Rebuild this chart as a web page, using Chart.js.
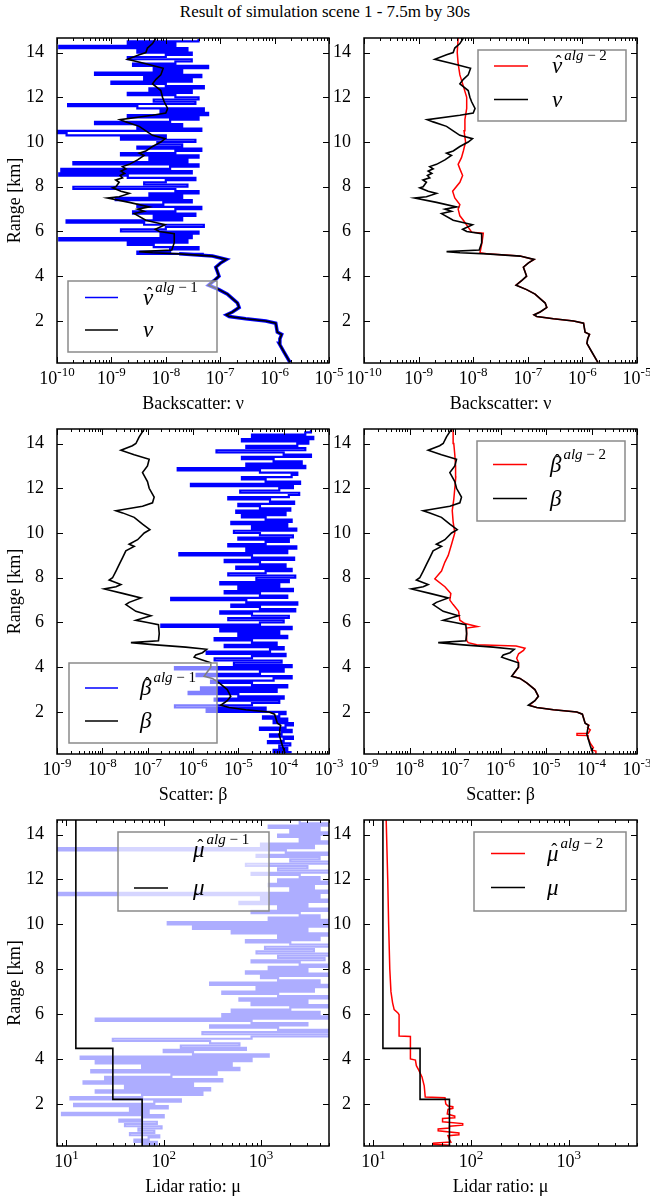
<!DOCTYPE html>
<html>
<head>
<meta charset="utf-8">
<script src="https://cdn.jsdelivr.net/npm/chart.js@4.4.1/dist/chart.umd.min.js"></script>
<style>
  html, body { margin: 0; background: #fff; }
  #page { position: relative; width: 650px; height: 1201px; overflow: hidden; }
  #page canvas { position: absolute; left: 0; top: 0; }
  #title { position: absolute; left: 0; top: 2px; width: 650px; text-align: center;
           font: 17px "Liberation Serif", serif; color: #000; }
</style>
</head>
<body>
<div id="page">
  <div id="title">Result of simulation scene 1 - 7.5m by 30s</div>
  <canvas id="nu1" width="650" height="1201"></canvas>
  <canvas id="nu2" width="650" height="1201"></canvas>
  <canvas id="beta1" width="650" height="1201"></canvas>
  <canvas id="beta2" width="650" height="1201"></canvas>
  <canvas id="mu1" width="650" height="1201"></canvas>
  <canvas id="mu2" width="650" height="1201"></canvas>
</div>
<script>
// tick labels
const rangeTicks = [2, 4, 6, 8, 10, 12, 14];
const nuTicks = [1e-10, 1e-9, 1e-8, 1e-7, 1e-6, 1e-5];
const betaTicks = [1e-9, 1e-8, 1e-7, 1e-6, 1e-5, 1e-4, 1e-3];
const muTicks = [10, 100, 1000];

// range bins (km) used by the noisy alg-1 profiles
const gridKm = [0.2,0.3,0.4,0.5,0.6,0.7,0.8,0.9,1.0,1.1,1.2,1.3,1.4,1.5,1.6,1.7,1.8,1.9,2.0,2.1,
  2.2,2.3,2.4,2.5,2.6,2.7,2.8,2.9,3.0,3.1,3.2,3.3,3.4,3.5,3.6,3.7,3.8,3.9,4.0,4.1,
  4.2,4.3,4.4,4.5,4.6,4.7,4.8,4.9,5.0,5.1,5.2,5.3,5.4,5.5,5.6,5.7,5.8,5.9,6.0,6.1,
  6.2,6.3,6.4,6.5,6.6,6.7,6.8,6.9,7.0,7.1,7.2,7.3,7.4,7.5,7.6,7.7,7.8,7.9,8.0,8.1,
  8.2,8.3,8.4,8.5,8.6,8.7,8.8,8.9,9.0,9.1,9.2,9.3,9.4,9.5,9.6,9.7,9.8,9.9,10.0,10.1,
  10.2,10.3,10.4,10.5,10.6,10.7,10.8,10.9,11.0,11.1,11.2,11.3,11.4,11.5,11.6,11.7,11.8,11.9,12.0,12.1,
  12.2,12.3,12.4,12.5,12.6,12.7,12.8,12.9,13.0,13.1,13.2,13.3,13.4,13.5,13.6,13.7,13.8,13.9,14.0,14.1,
  14.2,14.3,14.4,14.5,14.6];

// true backscatter nu
const nuTrueKm = [0.15,0.6,1.0,1.2,1.4,1.5,1.9,2.0,2.1,2.2, 2.27,2.4,2.6,2.8,3.0,3.2,3.4,3.6,3.8,4.0,
  4.2,4.4,4.6,4.75,4.9,5.0,5.05,5.1,5.17,5.5, 5.9,6.0,6.1,6.3,6.5,6.8,6.9,7.0,7.1,7.3,
  7.5,7.55,7.7,7.8,7.95,8.0,8.2,8.3,8.4,8.5, 8.6,8.7,8.8,8.9,9.0,9.2,9.4,9.5,9.6,9.8,
  10.0,10.15,10.3,10.5,10.7,10.9,11.0,11.2,11.3,11.5, 11.8,12.0,12.3,12.6,12.8,13.0,13.3,13.5,13.7,13.9,
  14.0,14.2,14.4,14.65];
const nuTrue = [1.92e-6,1.5e-6,1.21e-6,1.25e-6,1.35e-6,1.12e-6,1.05e-6,6.9e-7,2.95e-7,1.46e-7,
  1.3e-7,1.68e-7,2.23e-7,2.08e-7,1.68e-7,1.36e-7,9.5e-8,6.1e-8,7.7e-8,9.5e-8,
  8.9e-8,8.3e-8,1.03e-7,1.3e-7,7.2e-8,1.76e-8,5.7e-9,3.25e-9,1.29e-8,1.43e-8,
  1.43e-8,7.6e-9,6.4e-9,9.7e-9,4.3e-9,2.63e-9,4.0e-9,3.03e-9,4.95e-9,2.13e-9,
  8.5e-10,1.39e-9,2.13e-9,1.5e-9,1.05e-9,1.21e-9,1.39e-9,1.2e-9,1.6e-9,1.45e-9,
  1.75e-9,1.5e-9,1.85e-9,1.6e-9,2.13e-9,3.03e-9,4.0e-9,3.25e-9,4.3e-9,5.7e-9,
  8.1e-9,9.7e-9,5.7e-9,4.3e-9,3.25e-9,1.85e-9,1.44e-9,5.7e-9,1.0e-8,1.08e-8,
  9.35e-9,8.7e-9,8.1e-9,5.7e-9,6.6e-9,8.1e-9,8.95e-9,4.3e-9,1.98e-9,3.25e-9,
  4.3e-9,4.6e-9,5.7e-9,6.6e-9];

// nu alg-1 above 5 km (gridKm from 5.0)
const nuAlg1 = [5e-8,3e-9,1.2e-8,4e-8,6e-9,2e-9,2.5e-8,1.1e-10,3e-8,8e-9,
  4e-8,1.5e-9,1e-8,5e-8,4e-9,1.5e-10,2e-8,6e-9,3.5e-8,2.5e-9,
  1.5e-8,4.5e-8,3e-9,9e-9,3e-8,1.2e-9,2e-8,5e-9,4e-8,1.5e-8,
  2e-10,2.5e-8,4e-9,1e-8,3.5e-8,2e-9,1.1e-10,3e-8,1.2e-10,1.2e-8,
  4e-8,2e-10,2.5e-8,5e-9,4e-8,1.5e-9,1.5e-8,4.5e-8,3e-9,2e-8,
  7e-9,3.5e-8,1.5e-9,1e-8,1.5e-10,1.05e-10,4.5e-8,3e-9,2e-8,5e-10,
  1.2e-8,4e-8,2e-9,6e-8,8e-9,5e-8,3e-9,1.6e-10,3.5e-8,6e-9,
  4e-8,1.5e-8,2e-9,3e-8,5e-9,5e-8,1e-8,1e-9,3e-8,4e-9,
  4.5e-8,5e-10,2e-8,6e-9,6e-8,2.5e-9,1.5e-8,3e-8,2e-9,1e-8,
  3e-8,3e-9,2.5e-8,1.1e-10,1.5e-8,2e-9,4e-8];

// nu alg-2 above 5 km (below it follows the true profile)
const nuAlg2UpperKm = [5.05,5.5,5.92,5.97,6.5,6.7,7.0,7.2,7.5,7.8,8.2,8.5,8.8,9.0,9.3,9.6,10.0,10.5,11.0,11.5,12.0,12.5,13.0,13.5,14.0,14.65];
const nuAlg2Upper = [1.33e-8,1.45e-8,1.53e-8,9.35e-9,6.6e-9,5.7e-9,5.3e-9,5.7e-9,4.6e-9,4.2e-9,5.7e-9,6.4e-9,5.7e-9,5.3e-9,6.1e-9,6.6e-9,7.25e-9,6.8e-9,7.05e-9,7.6e-9,7.6e-9,6.6e-9,5.7e-9,5.3e-9,5.1e-9,5.3e-9];

// true scatter beta
const betaTrueKm = [0.15,0.5,1.0,1.2,1.4,1.5,1.9,2.0,2.1,2.2, 2.3,2.5,2.7,3.0,3.3,3.5,3.6,3.8,4.0,4.2,
  4.35,4.45,4.55,4.65,4.8,4.9,5.0,5.1,5.18,5.5, 5.9,6.0,6.1,6.3,6.5,6.8,6.9,7.1,7.3,7.5,
  7.6,7.7,7.9,8.0,8.3,8.6,8.9,9.2,9.4,9.5, 9.7,10.0,10.15,10.4,10.7,10.9,11.0,11.2,11.35,11.6,
  12.0,12.3,12.7,13.0,13.3,13.5,13.7,13.9,14.0,14.3, 14.65];
const betaTrue = [1.07e-4,9.35e-5,7.9e-5,8.2e-5,8.6e-5,7.25e-5,6.3e-5,4.75e-5,1.46e-5,6.25e-6,
  4.1e-6,5.7e-6,6.8e-6,5.7e-6,3.77e-6,2.68e-6,1.76e-6,2.08e-6,2.47e-6,2.47e-6,
  1.49e-6,1.06e-6,1.15e-6,1.62e-6,2.0e-6,6.9e-7,1.52e-7,4.27e-8,1.73e-7,1.8e-7,
  1.73e-7,9.9e-8,5.5e-8,1.18e-7,5.5e-8,3.3e-8,3.9e-8,7.1e-8,2.8e-8,1.1e-8,
  2.0e-8,2.57e-8,1.42e-8,1.68e-8,2.0e-8,2.36e-8,2.8e-8,3.3e-8,5.05e-8,3.9e-8,
  6.0e-8,8.4e-8,1.12e-7,7.7e-8,5.05e-8,2.8e-8,2.0e-8,7.7e-8,1.28e-7,1.39e-7,
  1.08e-7,9.9e-8,7.7e-8,9.9e-8,1.08e-7,5.05e-8,2.57e-8,4.6e-8,5.5e-8,6.5e-8,
  8.4e-8];

// beta alg-1 on gridKm
const betaAlg1 = [1.5e-4,6e-5,1.2e-4,8e-5,1.4e-4,4.5e-5,1e-4,1.6e-4,5e-5,9e-5,
  1.5e-4,3e-5,1.1e-4,1.6e-4,6e-5,1.2e-4,3.5e-5,8e-5,1.1e-4,2e-6,
  4e-5,4e-7,2e-5,8e-5,3e-6,1e-4,1e-5,8e-7,7e-5,1.5e-6,
  1.2e-4,2e-5,2.5e-6,6e-5,1.5e-4,1.2e-6,3e-5,1e-4,4e-7,1.5e-4,
  8e-6,9e-5,3e-6,2e-5,1.1e-4,2e-6,5e-5,1e-4,5e-6,7e-5,
  2e-5,3e-6,1.2e-4,1e-5,8e-5,4e-6,1.5e-4,2e-7,3e-5,1e-4,
  6e-6,1.3e-4,2e-5,4e-6,1.8e-4,3e-5,7e-6,2e-4,1.5e-5,3.3e-7,
  1.2e-4,3e-5,5e-6,1.6e-4,1e-5,8e-5,4e-6,1.3e-4,2.5e-5,1.8e-4,
  6e-6,4e-5,1.5e-4,9e-6,1.1e-4,3e-5,5e-6,1.7e-4,2e-5,5e-7,
  1.2e-4,1.5e-5,1.9e-4,6e-6,4e-5,1.3e-4,1e-5,1.6e-4,3e-5,8e-6,
  1.9e-4,2e-5,1.2e-4,7e-6,1.5e-4,4e-5,1.2e-5,1.1e-4,9e-6,1.4e-4,
  3e-5,1e-5,1.7e-4,5e-5,6e-6,1.3e-4,2.2e-4,1.1e-5,8e-5,1.6e-4,
  9e-7,2.3e-4,4e-5,1.2e-5,1.5e-4,2e-4,3e-5,4.6e-7,3e-4,1.5e-5,
  2.5e-4,6e-5,1.2e-5,4e-4,1e-4,3.3e-6,3e-4,1.5e-5,2e-4,3.5e-4,
  1.2e-5,4.5e-4,2e-5,3e-4,4e-4];

// beta alg-2
const betaAlg2Km = [0.15,0.25,0.3,0.4,0.6,0.8,0.95,0.96,1.04,1.05, 1.2,1.3,1.4,1.5,1.9,2.0,2.1,2.2,2.3,2.5,
  2.7,3.0,3.3,3.5,3.6,3.8,4.0,4.2,4.4,4.6, 4.75,4.85,4.95,5.0,5.1,5.2,5.75,5.82,5.95,6.1,
  6.5,6.8,7.0,7.3,7.6,7.95,8.3,8.7,9.0,9.5, 10.0,10.5,11.0,11.5,12.0,12.5,13.0,13.5,14.0,14.65];
const betaAlg2 = [1.2e-4,1.25e-4,1.0e-4,1.1e-4,9.4e-5,8.6e-5,8.4e-5,4.8e-5,4.8e-5,8.5e-5,
  9.4e-5,8.2e-5,8.8e-5,7.25e-5,6.3e-5,4.75e-5,1.46e-5,6.25e-6,4.3e-6,5.7e-6,
  6.8e-6,5.7e-6,3.77e-6,2.68e-6,1.8e-6,2.1e-6,2.5e-6,2.5e-6,2.27e-6,2.5e-6,
  3.2e-6,3.46e-6,2.2e-6,3e-7,1.95e-7,1.8e-7,1.8e-7,3.1e-7,1.65e-7,1.28e-7,
  1.2e-7,9.1e-8,7.7e-8,8.1e-8,6.0e-8,3.6e-8,5.05e-8,6.0e-8,7.1e-8,8.4e-8,
  9.9e-8,9.1e-8,8.7e-8,9.4e-8,9.9e-8,1.04e-7,1.03e-7,9.9e-8,9.4e-8,9.1e-8];

// true lidar ratio mu
const muTrueKm = [0.12, 2.2, 2.2, 4.47, 4.47, 14.65];
const muTrue = [60, 60, 30, 30, 12.5, 12.5];

// mu alg-1 on gridKm
const muAlg1 = [60,85,50,70,90,45,80,55,95,40,
  85,35,60,100,9,70,45,110,12,80,
  150,11,60,250,20,300,40,200,15,400,
  25,120,350,18,600,60,500,20,800,14,
  1200,200,100,700,150,600,300,30,800,5000,
  250,6000,1500,300,3000,800,20,7000,400,4000,
  500,2000,8000,800,3000,600,6000,1500,400,3500,
  900,7000,300,4000,1500,1000,6000,700,3000,1200,
  8000,2500,800,4500,1500,6000,900,3500,1100,7000,
  2000,700,4000,1500,6000,500,3000,200,8000,110,
  7000,1200,4000,2500,800,6000,1500,3000,600,7000,
  1000,4000,5,6000,2000,3500,1200,8000,1500,4000,
  2500,800,7000,1500,3000,700,6000,2000,4000,900,
  8000,1800,5,3500,1000,6000,2500,4000,1500,7000,
  2000,4000,1200,8000,2500];

// mu alg-2
const muAlg2Km = [0.15,0.2,0.25,0.3,0.4,0.58,0.62,0.7,0.8,0.88, 0.92,1.0,1.05,1.12,1.2,1.35,1.38,1.45,1.55,1.75,
  1.8,1.87,1.9,2.0,2.27,2.3,2.8,3.2,3.5,3.7, 3.95,4.0,5.0,5.02,5.97,6.05,6.2,6.5,7.0,8.0,
  10.0,12.0,14.65];
const muAlg2 = [60,41,41,62,60,58,75,75,46,46, 60,60,82,82,51,51,68,68,57,58,
  65,65,58,55,54,33.9,33.1,31.4,29.1,27.5, 26.9,23.9,23.9,18.3,18.3,17.8,16.3,15.7,15.1,14.7,
  14.3,14.0,13.5];

const SERIF = '"Liberation Serif", "Times New Roman", serif';
const tickFont = { family: SERIF, size: 18 };
const titleFont = { family: SERIF, size: 18 };
const pts = (km, vals) => km.map((k, i) => ({ x: vals[i], y: k }));

// frame, inward ticks, power-of-ten labels and boxed legend, drawn over the lines
const framePlugin = {
  id: 'frame',
  afterDatasetsDraw(chart, args, opts) {
    const { ctx, chartArea: a, scales: { x, y } } = chart;
    ctx.save();
    const L = opts.legend;
    if (L) {
      const [x1, y1, x2, y2] = L.box;
      ctx.fillStyle = 'rgba(255,255,255,0.5)';
      ctx.fillRect(x1, y1, x2 - x1, y2 - y1);
      ctx.strokeStyle = '#8a8a8a';
      ctx.lineWidth = 1.5;
      ctx.strokeRect(x1, y1, x2 - x1, y2 - y1);
      L.items.forEach(it => {
        if (it.color) {
          ctx.strokeStyle = it.color;
          ctx.lineWidth = 1.5;
          ctx.beginPath();
          ctx.moveTo(L.lineX[0], it.y);
          ctx.lineTo(L.lineX[1], it.y);
          ctx.stroke();
        }
        ctx.fillStyle = '#000';
        ctx.textBaseline = 'alphabetic';
        ctx.textAlign = 'left';
        ctx.font = 'italic 23px ' + SERIF;
        ctx.fillText(it.base, L.textX, it.y + 7);
        const w = ctx.measureText(it.base).width;
        if (it.sup) {
          ctx.font = '18px ' + SERIF;
          ctx.textAlign = 'center';
          ctx.fillText('\u02C6', L.textX + w / 2 + 1.5, it.y + 2);
          ctx.textAlign = 'left';
          let sx = L.textX + w + 2;
          ctx.font = 'italic 15px ' + SERIF;
          ctx.fillText('alg', sx, it.y - 6);
          sx += ctx.measureText('alg').width;
          ctx.font = '15px ' + SERIF;
          ctx.fillText(' \u2212 ' + it.sup, sx, it.y - 6);
        }
      });
    }
    // x tick labels: "10" with a raised exponent
    ctx.fillStyle = '#000';
    ctx.textBaseline = 'alphabetic';
    ctx.textAlign = 'left';
    x.ticks.forEach(t => {
      const exp = String(Math.round(Math.log10(t.value)));
      ctx.font = '18px ' + SERIF;
      const wb = ctx.measureText('10').width;
      ctx.font = '13px ' + SERIF;
      const we = ctx.measureText(exp).width;
      const px = x.getPixelForValue(t.value) - (wb + we) / 2;
      ctx.font = '18px ' + SERIF;
      ctx.fillText('10', px, a.bottom + 21);
      ctx.font = '13px ' + SERIF;
      ctx.fillText(exp, px + wb, a.bottom + 13);
    });
    ctx.strokeStyle = '#000';
    ctx.lineWidth = 1;
    ctx.beginPath();
    const lo = Math.floor(Math.log10(x.min)), hi = Math.ceil(Math.log10(x.max));
    for (let e = lo; e <= hi; e++) {
      for (let k = 1; k < 10; k++) {
        const v = k * Math.pow(10, e);
        if (v < x.min * 0.999 || v > x.max * 1.001) continue;
        const px = Math.round(x.getPixelForValue(v)) + 0.5;
        const len = k === 1 ? 6 : 3;
        ctx.moveTo(px, a.bottom); ctx.lineTo(px, a.bottom - len);
        ctx.moveTo(px, a.top); ctx.lineTo(px, a.top + len);
      }
    }
    y.ticks.forEach(t => {
      const py = Math.round(y.getPixelForValue(t.value)) + 0.5;
      ctx.moveTo(a.left, py); ctx.lineTo(a.left + 6, py);
      ctx.moveTo(a.right, py); ctx.lineTo(a.right - 6, py);
    });
    ctx.stroke();
    ctx.lineWidth = 1.5;
    ctx.strokeRect(a.left, a.top, a.right - a.left, a.bottom - a.top);
    ctx.restore();
  }
};

function makePanel(id, area, xr, xTicks, xTitle, yTitle, datasets, legend) {
  const W = 57, H = 52;
  return new Chart(document.getElementById(id), {
    type: 'scatter',
    data: { datasets },
    options: {
      responsive: false,
      animation: false,
      devicePixelRatio: 1,
      layout: { padding: { left: area[0] - W, top: area[2], right: 650 - area[1], bottom: 1201 - area[3] - H } },
      elements: { point: { radius: 0 }, line: { tension: 0 } },
      plugins: { legend: { display: false }, tooltip: { enabled: false }, frame: { legend } },
      scales: {
        x: {
          type: 'logarithmic', min: xr[0], max: xr[1], bounds: 'data',
          grid: { display: false }, border: { display: false },
          afterBuildTicks: s => { s.ticks = xTicks.map(v => ({ value: v })); },
          afterFit: s => { s.height = H; s.paddingLeft = 0; s.paddingRight = 0; },
          ticks: { display: false, autoSkip: false, maxRotation: 0 },
          title: { display: true, text: xTitle, color: '#000', font: titleFont, padding: 0 }
        },
        y: {
          type: 'linear', min: 0.12, max: 14.65, bounds: 'data',
          grid: { display: false }, border: { display: false },
          afterBuildTicks: s => { s.ticks = rangeTicks.map(v => ({ value: v })); },
          afterFit: s => { s.width = W; s.paddingTop = 0; s.paddingBottom = 0; },
          ticks: { padding: 5, color: '#000', font: tickFont },
          title: { display: yTitle, text: 'Range [km]', color: '#000', font: titleFont, padding: { top: 4, bottom: 0 } }
        }
      }
    },
    plugins: [framePlugin]
  });
}

const line = (data, color, width, stepped) => ({ data, showLine: true, borderColor: color, borderWidth: width,
  pointRadius: 0, fill: false, stepped: stepped || false });
const LEFT = [57, 329], RIGHT = [364, 637];
const ROW1 = [38, 363], ROW2 = [429, 754], ROW3 = [820, 1146];

makePanel('nu1', [...LEFT, ...ROW1], [1e-10, 1e-5], nuTicks, 'Backscatter: \u03BD', true, [
  line(pts(nuTrueKm, nuTrue), '#000', 1.6),
  line(pts(nuTrueKm.slice(0, 26), nuTrue.slice(0, 26)), '#0000ff', 3.5),
  line(pts(gridKm.slice(48), nuAlg1), '#0000ff', 2.2, 'before')
], { box: [68, 281, 217, 352], lineX: [85, 118], textX: 143, items: [
  { color: '#0000ff', y: 297.5, base: '\u03BD', sup: '1' }, { color: '#000', y: 330, base: '\u03BD' }] });

makePanel('nu2', [...RIGHT, ...ROW1], [1e-10, 1e-5], nuTicks, 'Backscatter: \u03BD', false, [
  line(pts(nuTrueKm, nuTrue), '#000', 1.6),
  line(pts(nuTrueKm.slice(0, 26).concat(nuAlg2UpperKm), nuTrue.slice(0, 26).concat(nuAlg2Upper)), '#ff0000', 1.5)
], { box: [478, 50, 626, 121], lineX: [494, 528], textX: 552, items: [
  { color: '#ff0000', y: 66, base: '\u03BD', sup: '2' }, { color: '#000', y: 99.5, base: '\u03BD' }] });

makePanel('beta1', [...LEFT, ...ROW2], [1e-9, 1e-3], betaTicks, 'Scatter: \u03B2', true, [
  line(pts(betaTrueKm, betaTrue), '#000', 1.6),
  line(pts(gridKm, betaAlg1), '#0000ff', 2.2, 'before')
], { box: [69, 663, 217, 743], lineX: [85, 118], textX: 140, items: [
  { color: '#0000ff', y: 688, base: '\u03B2', sup: '1' }, { color: '#000', y: 721, base: '\u03B2' }] });

makePanel('beta2', [...RIGHT, ...ROW2], [1e-9, 1e-3], betaTicks, 'Scatter: \u03B2', false, [
  line(pts(betaTrueKm, betaTrue), '#000', 1.6),
  line(pts(betaAlg2Km, betaAlg2), '#ff0000', 1.5)
], { box: [477, 441, 625, 521], lineX: [493, 527], textX: 550, items: [
  { color: '#ff0000', y: 464.5, base: '\u03B2', sup: '2' }, { color: '#000', y: 498.5, base: '\u03B2' }] });

makePanel('mu1', [...LEFT, ...ROW3], [8, 5000], muTicks, 'Lidar ratio: \u03BC', true, [
  line(pts(muTrueKm, muTrue), '#000', 1.6),
  line(pts(gridKm, muAlg1), 'rgba(0,0,255,0.32)', 2.2, 'before')
], { box: [118, 832, 269, 911], lineX: [134, 168], textX: 193, items: [
  { color: null, y: 850, base: '\u03BC', sup: '1' }, { color: '#000', y: 888, base: '\u03BC' }] });

makePanel('mu2', [...RIGHT, ...ROW3], [8, 5000], muTicks, 'Lidar ratio: \u03BC', false, [
  line(pts(muTrueKm, muTrue), '#000', 1.6),
  line(pts(muAlg2Km, muAlg2), '#ff0000', 1.5)
], { box: [474, 832, 626, 911], lineX: [491, 525], textX: 547, items: [
  { color: '#ff0000', y: 853.5, base: '\u03BC', sup: '2' }, { color: '#000', y: 887.5, base: '\u03BC' }] });
</script>
</body>
</html>
